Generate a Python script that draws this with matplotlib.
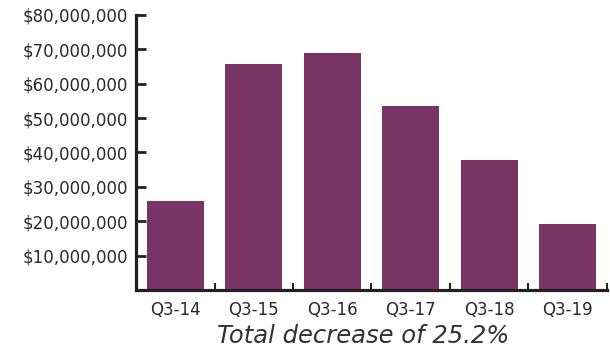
import matplotlib
matplotlib.use("Agg")
import matplotlib.pyplot as plt
from matplotlib.ticker import FuncFormatter, FixedLocator

quarters = ["Q3-14", "Q3-15", "Q3-16", "Q3-17", "Q3-18", "Q3-19"]
values = [25.9e6, 65.7e6, 68.9e6, 53.5e6, 37.8e6, 19.2e6]
yticks = [10e6, 20e6, 30e6, 40e6, 50e6, 60e6, 70e6, 80e6]

plt.rcParams['font.family'] = ['DejaVu Sans']

fig = plt.figure(figsize=(6.10, 3.54), dpi=100)
ax = fig.add_axes([0.223, 0.181, 0.772, 0.777])

x = range(len(quarters))
ax.bar(x, values, width=0.73, color="#773464")

ax.set_xlim(-0.5, len(quarters) - 0.5)
ax.set_ylim(0, 80e6)

for s in ["top", "right"]:
    ax.spines[s].set_visible(False)
for s in ["left", "bottom"]:
    ax.spines[s].set_linewidth(2.3)
    ax.spines[s].set_color("#222222")

ax.set_yticks(yticks)
ax.yaxis.set_major_formatter(FuncFormatter(lambda v, p: "${:,.0f}".format(v)))
ax.tick_params(axis="y", direction="in", length=7, width=2, color="#222222",
               labelsize=12, labelcolor="#2a2a2a", pad=6)

ax.set_xticks(list(x))
ax.set_xticklabels(quarters)
ax.xaxis.set_minor_locator(FixedLocator([i + 0.5 for i in x]))
ax.tick_params(axis="x", which="major", length=0, labelsize=12,
               labelcolor="#2a2a2a", pad=8)
ax.tick_params(axis="x", which="minor", direction="in", length=5, width=1.5,
               color="#222222")

ax.set_xlabel("Total decrease of 25.2%", fontsize=17.5, style="italic",
              color="#333333")
ax.xaxis.set_label_coords(0.482, -0.125)

fig.savefig("out.png", dpi=100)
